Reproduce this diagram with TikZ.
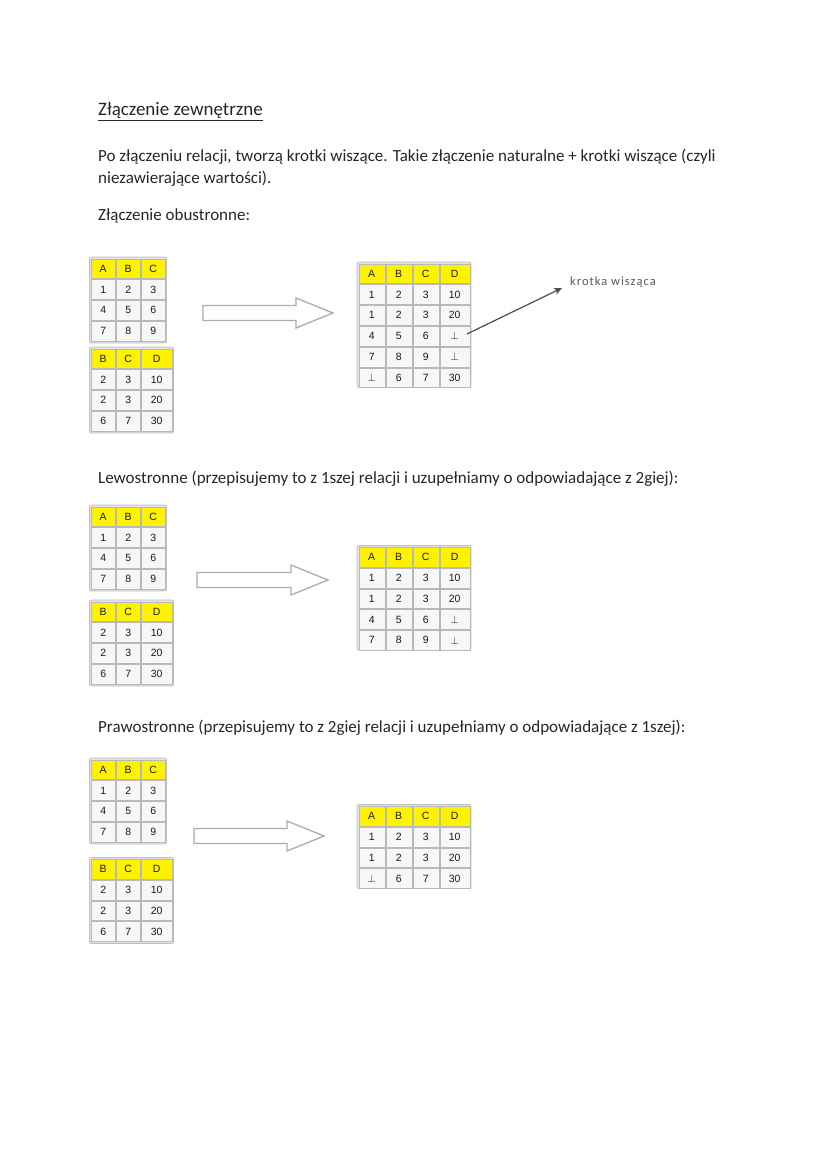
\documentclass[tikz,border=0pt]{standalone}
\usepackage{fontspec}
\setmainfont{Carlito}
\newfontfamily\cellfont{Liberation Sans}
\newfontfamily\labelfont[LetterSpace=8]{Carlito}
\usetikzlibrary{arrows.meta}
\tikzset{
  cellbox/.style={draw=gray!55, fill=gray!6, inner sep=0pt, minimum height=19.8pt, anchor=north west,
    font=\cellfont\fontsize{10.5}{11}\selectfont, text=black!90},
  headcell/.style={cellbox, fill=yellow},
  tableframe/.style={draw=gray!50, fill=gray!22, rounded corners=2pt, line width=0.8pt},
  bigarrow/.style={draw=gray!65, line width=1.3pt, fill=white, line join=miter},
  bodytext/.style={font=\fontsize{17}{21}\selectfont, anchor=base west, inner sep=0pt, text=black!85},
  titletext/.style={font=\fontsize{19}{21}\selectfont, anchor=base west, inner sep=0pt, text=black!85},
  smalllabel/.style={font=\labelfont\fontsize{12.5}{13}\selectfont, anchor=west, inner sep=0pt, text=black!65},
  pointer/.style={draw=black!70, line width=1.2pt, -{Stealth[length=8pt,width=7pt]}}
}
% one row of cells: #1 name, #2 x, #3 y, #4 style, #5 list text/dx/width
\newcommand\trow[5]{%
  \foreach \txt/\dx/\cw [count=\i] in {#5} {%
    \node[#4, minimum width=\cw pt] (#1-\i) at (#2+\dx,#3) {\txt};}}
% table A B C
\newcommand\abctable[3]{%
  \draw[tableframe] (#2-1.5,#3-1.5) rectangle (#2+75.5,#3+84.5);
  \trow{#1-0}{#2}{#3}{headcell}{A/0/24,B/25/24,C/50/24}
  \trow{#1-1}{#2}{#3+20.8}{cellbox}{1/0/24,2/25/24,3/50/24}
  \trow{#1-2}{#2}{#3+41.6}{cellbox}{4/0/24,5/25/24,6/50/24}
  \trow{#1-3}{#2}{#3+62.4}{cellbox}{7/0/24,8/25/24,9/50/24}}
% table B C D
\newcommand\bcdtable[3]{%
  \draw[tableframe] (#2-1.5,#3-1.5) rectangle (#2+82.5,#3+84.5);
  \trow{#1-0}{#2}{#3}{headcell}{B/0/24,C/25/24,D/50/31}
  \trow{#1-1}{#2}{#3+20.8}{cellbox}{2/0/24,3/25/24,10/50/31}
  \trow{#1-2}{#2}{#3+41.6}{cellbox}{2/0/24,3/25/24,20/50/31}
  \trow{#1-3}{#2}{#3+62.4}{cellbox}{6/0/24,7/25/24,30/50/31}}
% result row: #1 name, #2 x, #3 y, #4 style, #5-#8 texts
\newcommand\rrow[8]{\trow{#1}{#2}{#3}{#4}{#5/0/26,#6/27/26,#7/54/26,#8/81/30}}
% block arrow: #1 x0, #2 x1, #3 y centre
\newcommand\blockarrow[3]{%
  \draw[bigarrow] (#1,#3-7.5) -- (#2-37,#3-7.5) -- (#2-37,#3-15) -- (#2,#3)
    -- (#2-37,#3+15) -- (#2-37,#3+7.5) -- (#1,#3+7.5) -- cycle;}
\begin{document}
\begin{tikzpicture}[x=1pt,y=-1pt]
\useasboundingbox (0,0) rectangle (826,1169);

% texts
\node[titletext] (title) at (98,116) {\underline{Złączenie zewnętrzne}};
\node[bodytext] (par1) at (98,162) {Po złączeniu relacji, tworzą krotki wiszące. Takie złączenie naturalne + krotki wiszące (czyli};
\node[bodytext] (par2) at (98,183) {niezawierające wartości).};
\node[bodytext] (sec1) at (98,220) {Złączenie obustronne:};
\node[bodytext] (sec2) at (98,483) {Lewostronne (przepisujemy to z 1szej relacji i uzupełniamy o odpowiadające z 2giej):};
\node[bodytext] (sec3) at (98,732) {Prawostronne (przepisujemy to z 2giej relacji i uzupełniamy o odpowiadające z 1szej):};

% ---- section 1: full outer join
\abctable{a1}{91}{258.5}
\bcdtable{b1}{91}{348.5}
\blockarrow{203}{333}{313}
\draw[tableframe] (357,262) rectangle (471,387.5);
\rrow{r1-0}{358.5}{263.5}{headcell}{A}{B}{C}{D}
\rrow{r1-1}{358.5}{284.3}{cellbox}{1}{2}{3}{10}
\rrow{r1-2}{358.5}{305.1}{cellbox}{1}{2}{3}{20}
\rrow{r1-3}{358.5}{325.9}{cellbox}{4}{5}{6}{$\bot$}
\rrow{r1-4}{358.5}{346.7}{cellbox}{7}{8}{9}{$\bot$}
\rrow{r1-5}{358.5}{367.5}{cellbox}{$\bot$}{6}{7}{30}
\node[smalllabel] (lbl) at (570,282) {krotka wisząca};
\coordinate (tip) at (562,288);
\draw[pointer] ([xshift=-3pt,yshift=2pt]r1-3-4.east) -- (tip);

% ---- section 2: left outer join
\abctable{a2}{91}{506.5}
\bcdtable{b2}{91}{601.5}
\blockarrow{197}{328}{580}
\draw[tableframe] (357,545.5) rectangle (471,650);
\rrow{r2-0}{358.5}{547}{headcell}{A}{B}{C}{D}
\rrow{r2-1}{358.5}{567.8}{cellbox}{1}{2}{3}{10}
\rrow{r2-2}{358.5}{588.6}{cellbox}{1}{2}{3}{20}
\rrow{r2-3}{358.5}{609.4}{cellbox}{4}{5}{6}{$\bot$}
\rrow{r2-4}{358.5}{630.2}{cellbox}{7}{8}{9}{$\bot$}

% ---- section 3: right outer join
\abctable{a3}{91}{759.5}
\bcdtable{b3}{91}{859}
\blockarrow{194}{324}{836}
\draw[tableframe] (357,804.5) rectangle (471,888.5);
\rrow{r3-0}{358.5}{806}{headcell}{A}{B}{C}{D}
\rrow{r3-1}{358.5}{826.8}{cellbox}{1}{2}{3}{10}
\rrow{r3-2}{358.5}{847.6}{cellbox}{1}{2}{3}{20}
\rrow{r3-3}{358.5}{868.4}{cellbox}{$\bot$}{6}{7}{30}
\end{tikzpicture}
\end{document}
